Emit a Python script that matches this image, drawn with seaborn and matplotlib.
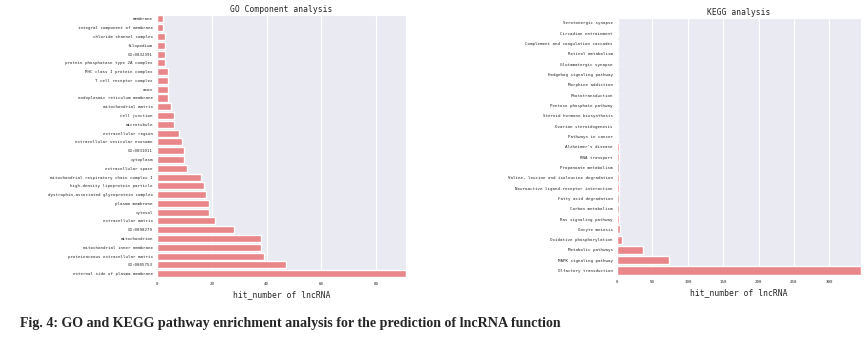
import matplotlib
matplotlib.use("Agg")
import matplotlib.pyplot as plt
import seaborn as sns
import pandas as pd

go_terms = [
    "membrane", "integral component of membrane", "chloride channel complex",
    "filopodium", "GO:0032391", "protein phosphatase type 2A complex",
    "MHC class I protein complex", "T cell receptor complex", "axon",
    "endoplasmic reticulum membrane", "mitochondrial matrix", "cell junction",
    "microtubule", "extracellular region", "extracellular vesicular exosome",
    "GO:0031011", "cytoplasm", "extracellular space",
    "mitochondrial respiratory chain complex I", "high-density lipoprotein particle",
    "dystrophin-associated glycoprotein complex", "plasma membrane", "cytosol",
    "extracellular matrix", "GO:0098279", "mitochondrion",
    "mitochondrial inner membrane", "proteinaceous extracellular matrix",
    "GO:0005753", "external side of plasma membrane",
]
go_hits = [2, 2, 3, 3, 3, 3, 4, 4, 4, 4, 5, 6, 6, 8, 9, 10, 10, 11, 16, 17,
           18, 19, 19, 21, 28, 38, 38, 39, 47, 91]

kegg_terms = [
    "Serotonergic synapse", "Circadian entrainment",
    "Complement and coagulation cascades", "Retinol metabolism",
    "Glutamatergic synapse", "Hedgehog signaling pathway", "Morphine addiction",
    "Phototransduction", "Pentose phosphate pathway",
    "Steroid hormone biosynthesis", "Ovarian steroidogenesis",
    "Pathways in cancer", "Alzheimer's disease", "RNA transport",
    "Propanoate metabolism", "Valine, leucine and isoleucine degradation",
    "Neuroactive ligand-receptor interaction", "Fatty acid degradation",
    "Carbon metabolism", "Ras signaling pathway", "Oocyte meiosis",
    "Oxidative phosphorylation", "Metabolic pathways", "MAPK signaling pathway",
    "Olfactory transduction",
]
kegg_hits = [1, 1, 1, 1, 1, 1, 1, 1, 1, 1, 1, 1, 2, 2, 2, 2, 2, 2, 3, 3, 4,
             7, 37, 73, 345]

go_df = pd.DataFrame({"term": go_terms, "hits": go_hits})
kegg_df = pd.DataFrame({"term": kegg_terms, "hits": kegg_hits})

sns.set_style("darkgrid")
plt.rcParams["font.family"] = ["DejaVu Sans Mono"]

bar_color = "#E8868A"
fig = plt.figure(figsize=(8.68, 3.43), dpi=100)

ax_go = fig.add_axes([0.181, 0.1895, 0.287, 0.768])
ax_kegg = fig.add_axes([0.711, 0.196, 0.281, 0.752])

for ax, df, title in [(ax_go, go_df, "GO Component analysis"),
                      (ax_kegg, kegg_df, "KEGG analysis")]:
    sns.barplot(data=df, x="hits", y="term", color=bar_color, saturation=1,
                orient="h", ax=ax, width=0.8)
    ax.set_xlim(0, max(df["hits"]))
    ax.set_title(title, fontsize=5.8, pad=2)
    ax.set_xlabel("hit_number of lncRNA", fontsize=5.8, labelpad=3)
    ax.set_ylabel("")
    ax.tick_params(axis="both", labelsize=3, length=0, pad=3)

ax_go.set_xticks([0, 20, 40, 60, 80])
ax_kegg.set_xticks([0, 50, 100, 150, 200, 250, 300])

fig.text(0.023, 0.047,
         "Fig. 4: GO and KEGG pathway enrichment analysis for the prediction of lncRNA function",
         fontsize=10.1, fontweight="bold", family="Liberation Serif", ha="left",
         va="baseline")

fig.savefig("out.png", dpi=100)
